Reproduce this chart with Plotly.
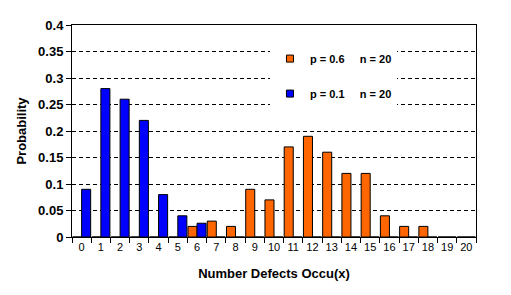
import plotly.graph_objects as go

categories = [str(i) for i in range(21)]
p06_values = [0, 0, 0, 0, 0, 0, 0.02, 0.03, 0.02, 0.09, 0.07, 0.17, 0.19, 0.16, 0.12, 0.12, 0.04, 0.02, 0.02, 0, 0]
p01_values = [0.09, 0.28, 0.26, 0.22, 0.08, 0.04, 0.026, 0, 0, 0, 0, 0, 0, 0, 0, 0, 0, 0, 0, 0, 0]
y_ticks = [0, 0.05, 0.1, 0.15, 0.2, 0.25, 0.3, 0.35, 0.4]
y_ticktext = ["0", "0.05", "0.1", "0.15", "0.2", "0.25", "0.3", "0.35", "0.4"]
series_names = ["p = 0.6" + "\u00a0" * 5 + "n = 20", "p = 0.1" + "\u00a0" * 5 + "n = 20"]
series_colors = ["#FF6600", "#0000FF"]

fig = go.Figure()
for vals, name, col, grp in zip([p06_values, p01_values], series_names, series_colors, ["a", "b"]):
    fig.add_trace(go.Bar(x=categories, y=vals, name=name, showlegend=False,
                         marker=dict(color=col, line=dict(color="black", width=1))))
    # legend entry with a small square swatch
    fig.add_trace(go.Scatter(x=[None], y=[None], mode="markers", name=name, legendgroup=grp,
                             marker=dict(symbol="square", size=7, color=col,
                                         line=dict(color="black", width=1))))

fig.update_layout(
    width=511, height=295,
    margin=dict(l=72, r=35, t=25, b=58),
    paper_bgcolor="white", plot_bgcolor="white",
    barmode="group", bargap=0.06, bargroupgap=0,
    font=dict(family="Arial, Liberation Sans, sans-serif", color="black", size=12),
    legend=dict(x=0.49, y=0.91, xanchor="left", yanchor="top", bgcolor="white",
                font=dict(size=11, family="Liberation Sans Narrow, Arial Narrow, Arial", weight="bold"),
                tracegroupgap=16, itemwidth=30),
    xaxis=dict(type="category", tickson="boundaries", ticks="outside", ticklen=5, tickangle=0,
               tickcolor="black", showline=True, linecolor="black", linewidth=1, mirror=True,
               showgrid=False, tickfont=dict(size=11),
               title=dict(text="Number Defects Occu(x)", font=dict(size=13, weight="bold"), standoff=16)),
    yaxis=dict(range=[0, 0.4], tickvals=y_ticks, ticktext=y_ticktext, ticks="outside", ticklen=5,
               tickcolor="black", showline=True, linecolor="black", linewidth=1, mirror=True,
               showgrid=True, gridcolor="black", gridwidth=1, griddash="4px,3px",
               zeroline=False, tickfont=dict(size=13, weight="bold"),
               title=dict(text="Probability", font=dict(size=13, weight="bold"), standoff=8)),
)

fig.write_html("out.html")
